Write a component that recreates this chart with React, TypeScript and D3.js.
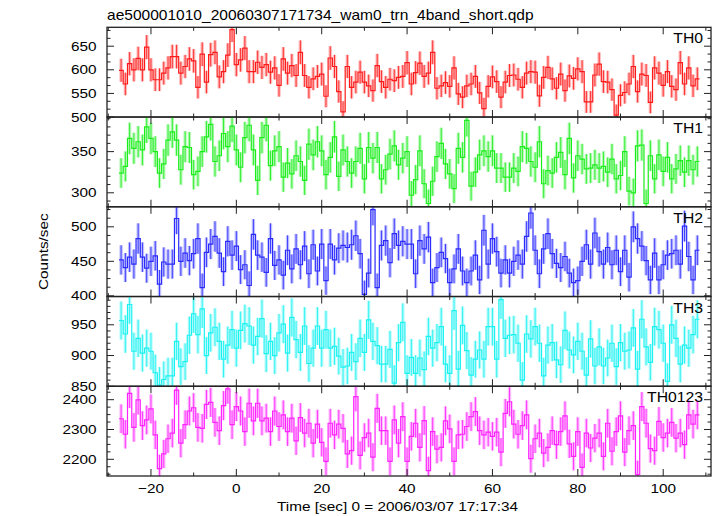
import React from "react";
import * as d3 from "d3";

const TITLE = "ae500001010_20060307171734_wam0_trn_4band_short.qdp";
const X_LABEL = "Time [sec] 0 = 2006/03/07 17:17:34";
const Y_LABEL = "Counts/sec";
const BIN_START = -27; // centre of first 1-s bin
const BIN_WIDTH = 1;
const X_DOMAIN: [number, number] = [-30.3, 111.2];
const X_MAJOR = [-20, 0, 20, 40, 60, 80, 100];
const X_MINOR = [-30, -10, 10, 30, 50, 70, 90, 110];

const TH0 = [599,570,613,600,624,600,648,600,579,579,593,604,628,628,593,607,623,619,563,633,574,632,637,585,596,631,685,611,621,646,596,596,616,605,611,595,604,567,623,593,609,588,637,588,563,581,586,591,544,625,607,554,511,607,563,574,595,574,566,556,609,575,563,580,577,584,586,615,570,594,614,586,593,637,561,566,573,565,604,549,542,566,570,586,551,518,565,585,575,542,574,588,589,580,563,593,596,595,545,584,605,581,561,591,556,587,582,602,596,532,532,589,612,575,574,558,504,546,552,570,607,554,591,588,531,604,593,567,596,565,558,615,570,604,566,581];
const TH1 = [324,332,366,354,362,352,380,366,350,324,335,364,374,364,328,356,355,322,326,350,368,383,338,345,372,356,381,352,331,367,382,352,315,367,382,333,351,356,319,336,323,345,338,315,359,346,362,351,322,343,368,320,352,338,324,338,354,317,355,342,355,317,328,347,357,334,342,350,297,316,351,311,287,314,344,360,335,323,305,354,343,388,308,325,346,351,344,351,330,330,319,319,330,326,356,354,338,331,362,311,327,324,343,349,322,366,318,345,341,329,330,334,330,332,325,341,317,321,350,302,300,357,358,287,345,317,346,326,343,317,329,339,325,339,328,338];
const TH2 = [452,441,456,446,483,456,440,450,458,417,449,446,446,512,450,462,451,461,483,412,463,475,486,462,435,479,459,472,438,445,415,489,459,456,434,483,444,452,430,466,439,468,445,472,432,474,436,475,422,475,452,469,473,470,474,487,461,402,433,525,412,473,480,448,490,473,479,475,475,432,480,468,485,419,441,463,454,419,439,468,436,419,436,459,423,495,446,483,464,433,452,433,450,459,446,486,520,466,432,468,490,461,447,441,457,433,419,422,450,474,446,491,464,446,470,445,466,435,466,427,500,483,472,451,423,462,423,445,459,461,466,446,501,457,423,466];
const TH3 = [957,935,983,907,928,904,912,907,872,852,861,867,867,923,882,890,933,968,934,976,900,937,946,923,894,917,942,912,941,952,948,917,931,960,903,923,900,937,951,904,962,926,905,948,887,912,948,912,942,912,915,899,881,883,905,890,928,905,958,923,916,886,886,910,855,921,954,871,897,871,896,877,931,912,921,947,886,871,973,878,949,908,868,894,909,894,947,947,894,991,928,933,934,920,860,935,927,947,920,867,917,921,893,885,941,909,901,923,907,868,927,883,914,883,896,920,882,921,907,909,945,878,959,914,889,947,942,920,858,950,928,886,917,912,934,959];
const TH0123 = [2336,2284,2421,2307,2399,2313,2332,2369,2282,2169,2218,2269,2288,2432,2254,2316,2362,2373,2307,2304,2384,2391,2324,2296,2380,2436,2316,2377,2362,2293,2388,2329,2388,2329,2338,2293,2362,2310,2349,2293,2338,2262,2340,2288,2321,2254,2318,2257,2193,2321,2282,2318,2304,2218,2229,2410,2213,2273,2288,2207,2371,2296,2296,2193,2332,2254,2343,2193,2277,2321,2240,2330,2162,2293,2234,2240,2329,2302,2193,2282,2284,2310,2343,2360,2296,2282,2291,2277,2291,2224,2354,2393,2318,2284,2313,2349,2202,2269,2288,2221,2240,2296,2249,2293,2346,2252,2210,2293,2173,2288,2238,2271,2288,2210,2321,2227,2293,2346,2224,2296,2313,2149,2377,2321,2236,2229,2327,2273,2288,2324,2271,2288,2249,2349,2318,2349];

const PANEL_NAMES = ["TH0", "TH1", "TH2", "TH3", "TH0123"];
const PANEL_SERIES = [TH0, TH1, TH2, TH3, TH0123];
const PANEL_COLORS = ["#ff1a1a", "#1aee1a", "#2a2aff", "#1af2f2", "#ff22ff"];
const PANEL_DOMAINS: [number, number][] = [[500, 690], [283, 392], [399, 529], [850, 996], [2144, 2445]];
const PANEL_MAJOR = [[500, 550, 600, 650], [300, 350], [400, 450, 500], [850, 900, 950], [2200, 2300, 2400]];
const PANEL_MINOR_STEP = [50 / 3, 10, 12.5, 10, 25];

const W = 717, H = 516;
const LEFT = 107, RIGHT = 711, TOP = 27.3, BOTTOM = 476;
const FONT = "'Liberation Sans', Arial, Helvetica, sans-serif";
const AXIS = "#222";

function T({ x, y, anchor = "start", size = 13, sx = 1.18, rotate = 0, children }: any) {
  return (
    <text
      transform={`translate(${x},${y}) rotate(${rotate}) scale(${sx},1)`}
      textAnchor={anchor}
      fontSize={size}
      fontFamily={FONT}
      fill="#000"
    >
      {children}
    </text>
  );
}

export default function App() {
  const x = d3.scaleLinear().domain(X_DOMAIN).range([LEFT, RIGHT]);
  const ph = (BOTTOM - TOP) / PANEL_NAMES.length;

  const panels = PANEL_NAMES.map((name, p) => {
    const y0 = TOP + p * ph;
    const y1 = y0 + ph;
    const y = d3.scaleLinear().domain(PANEL_DOMAINS[p]).range([y1, y0]);
    const vals = PANEL_SERIES[p];
    const color = PANEL_COLORS[p];
    const pts: [number, number][] = [];
    vals.forEach((v, i) => {
      const c = BIN_START + i * BIN_WIDTH;
      pts.push([x(c - BIN_WIDTH / 2), y(v)]);
      pts.push([x(c + BIN_WIDTH / 2), y(v)]);
    });
    const line = d3.line()(pts) || "";
    const [d0, d1] = PANEL_DOMAINS[p];
    const minor: number[] = [];
    const step = PANEL_MINOR_STEP[p];
    const base = PANEL_MAJOR[p][0];
    for (let k = -40; k <= 40; k++) {
      const v = base + k * step;
      if (v > d0 && v < d1 && !PANEL_MAJOR[p].some((m) => Math.abs(m - v) < 1e-6)) minor.push(v);
    }
    const clipId = `clip${p}`;
    return (
      <g key={name}>
        <defs>
          <clipPath id={clipId}>
            <rect x={LEFT} y={y0} width={RIGHT - LEFT} height={ph} />
          </clipPath>
        </defs>
        <g clipPath={`url(#${clipId})`}>
          {vals.map((v, i) => {
            const c = x(BIN_START + i * BIN_WIDTH);
            const e = Math.sqrt(v);
            return (
              <g key={i}>
                <rect x={c - 1.7} width={3.4} y={y(v + e)} height={y(v - e) - y(v + e)} fill={color} opacity={0.3} />
                <line x1={c} x2={c} y1={y(v + e)} y2={y(v - e)} stroke={color} strokeWidth={1} opacity={0.85} />
              </g>
            );
          })}
          <path d={line} fill="none" stroke={color} strokeWidth={1.2} />
        </g>
        {PANEL_MAJOR[p].filter((v) => v >= d0 && v <= d1).map((v) => (
          <g key={"M" + v}>
            <line x1={LEFT} x2={LEFT + 7} y1={y(v)} y2={y(v)} stroke={AXIS} strokeWidth={1} />
            <line x1={RIGHT} x2={RIGHT - 7} y1={y(v)} y2={y(v)} stroke={AXIS} strokeWidth={1} />
            <T x={96.5} y={y(v) + 4.6} anchor="end">{v}</T>
          </g>
        ))}
        {minor.map((v) => (
          <g key={"m" + v}>
            <line x1={LEFT} x2={LEFT + 3.5} y1={y(v)} y2={y(v)} stroke={AXIS} strokeWidth={1} />
            <line x1={RIGHT} x2={RIGHT - 3.5} y1={y(v)} y2={y(v)} stroke={AXIS} strokeWidth={1} />
          </g>
        ))}
        {X_MAJOR.map((t) => (
          <g key={"xM" + t}>
            <line x1={x(t)} x2={x(t)} y1={y0} y2={y0 + 7} stroke={AXIS} strokeWidth={1} />
            <line x1={x(t)} x2={x(t)} y1={y1} y2={y1 - 7} stroke={AXIS} strokeWidth={1} />
          </g>
        ))}
        {X_MINOR.filter((t) => t > X_DOMAIN[0] && t < X_DOMAIN[1]).map((t) => (
          <g key={"xm" + t}>
            <line x1={x(t)} x2={x(t)} y1={y0} y2={y0 + 3.5} stroke={AXIS} strokeWidth={1} />
            <line x1={x(t)} x2={x(t)} y1={y1} y2={y1 - 3.5} stroke={AXIS} strokeWidth={1} />
          </g>
        ))}
        <rect x={LEFT} y={y0} width={RIGHT - LEFT} height={ph} fill="none" stroke={AXIS} strokeWidth={1.3} />
        <T x={703} y={y0 + 16} anchor="end" size={15} sx={1.05}>{name}</T>
      </g>
    );
  });

  return (
    <svg width={W} height={H} style={{ position: "absolute", left: 0, top: 0, background: "#fff" }}>
      <rect x={0} y={0} width={W} height={H} fill="#fff" />
      <T x={LEFT} y={20} size={14} sx={1.11}>{TITLE}</T>
      {panels}
      {X_MAJOR.map((t) => (
        <T key={t} x={x(t)} y={493} anchor="middle">{t < 0 ? "\u2212" + Math.abs(t) : t}</T>
      ))}
      <T x={397.5} y={511} anchor="middle">{X_LABEL}</T>
      <T x={47.5} y={(TOP + BOTTOM) / 2} anchor="middle" rotate={-90}>{Y_LABEL}</T>
    </svg>
  );
}
